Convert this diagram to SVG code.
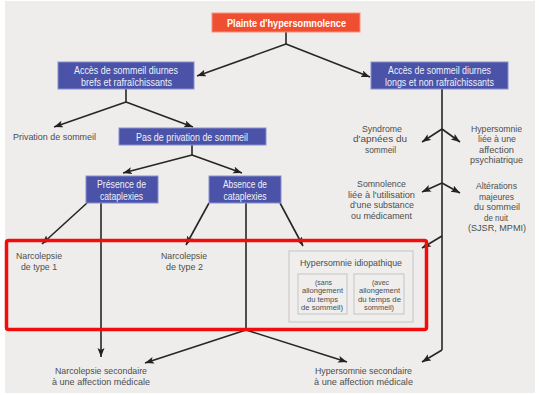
<svg xmlns="http://www.w3.org/2000/svg" width="539" height="395" viewBox="0 0 539 395">
<defs>
<marker id="ah" markerUnits="userSpaceOnUse" markerWidth="10" markerHeight="8" refX="9" refY="3.5" orient="auto">
<path d="M0,0 L9,3.5 L0,7 L2,3.5 z" fill="#222"/>
</marker>
<style>
text{font-family:"Liberation Sans",Arial,sans-serif;text-anchor:middle}
.t{font-size:9.8px;fill:#4d4d4d}
.s{font-size:8px}
.w{font-size:10.2px;fill:#eef0fa}
.blue{fill:#4a53a7;stroke:#8a90cf;stroke-width:1}
.grey{fill:#efeeed;stroke:#c4c4c4;stroke-width:1}
.c path{fill:none;stroke:#262626;stroke-width:1.6}
.a{marker-end:url(#ah)}
</style>
</defs>
<rect x="0" y="0" width="539" height="395" fill="#ffffff"/>
<rect x="5" y="1" width="530" height="392" fill="#efedeb"/>
<g id="connectors" class="c">
<path d="M286,32 V44"/>
<path class="a" d="M286,44 L197,76"/>
<path class="a" d="M286,44 L370,77"/>
<path d="M126,89 V102"/>
<path class="a" d="M126,102 L54,127"/>
<path class="a" d="M126,102 L193,127"/>
<path d="M192,145 V155"/>
<path class="a" d="M192,155 L123,173"/>
<path class="a" d="M192,155 L242,173"/>
<path class="a" d="M87,203 L42,244"/>
<path class="a" d="M101,203 V357"/>
<path class="a" d="M209,203 L186,245"/>
<path class="a" d="M280,203 L303,246"/>
<path d="M246,203 V330"/>
<path class="a" d="M246,330 L145,363"/>
<path class="a" d="M246,330 L347,362"/>
<path d="M442,89 V350"/>
<path class="a" d="M442,350 L422,362"/>
<path class="a" d="M442,129 L422,142"/>
<path class="a" d="M442,129 L460,142"/>
<path class="a" d="M442,183 L422,192"/>
<path class="a" d="M442,183 L460,193"/>
<path class="a" d="M442,236 L422,248"/>
</g>
<g id="n-plainte">
<rect x="212" y="13" width="148" height="19" fill="#f04e31" stroke="#f7927e" stroke-width="1"/>
<text x="286.5" y="26.5" font-size="11px" font-weight="bold" fill="#fff" textLength="119" lengthAdjust="spacingAndGlyphs">Plainte d'hypersomnolence</text>
</g>
<g id="n-brefs">
<rect class="blue" x="58" y="62" width="136" height="27"/>
<text class="w" x="126" y="74" textLength="104" lengthAdjust="spacingAndGlyphs">Accès de sommeil diurnes</text>
<text class="w" x="126.5" y="85.5" textLength="91" lengthAdjust="spacingAndGlyphs">brefs et rafraîchissants</text>
</g>
<g id="n-longs">
<rect class="blue" x="371" y="62" width="137" height="27"/>
<text class="w" x="439.5" y="74" textLength="103" lengthAdjust="spacingAndGlyphs">Accès de sommeil diurnes</text>
<text class="w" x="439.5" y="85.5" textLength="109" lengthAdjust="spacingAndGlyphs">longs et non rafraîchissants</text>
</g>
<g id="n-privation">
<text class="t" x="54.5" y="139.5" textLength="83" lengthAdjust="spacingAndGlyphs">Privation de sommeil</text>
</g>
<g id="n-pasprivation">
<rect class="blue" x="119" y="128" width="147" height="17"/>
<text class="w" x="192" y="140.5" textLength="112" lengthAdjust="spacingAndGlyphs">Pas de privation de sommeil</text>
</g>
<g id="n-presence">
<rect class="blue" x="86" y="176" width="72" height="27"/>
<text class="w" x="121.5" y="188" textLength="49" lengthAdjust="spacingAndGlyphs">Présence de</text>
<text class="w" x="121.5" y="199.5" textLength="43" lengthAdjust="spacingAndGlyphs">cataplexies</text>
</g>
<g id="n-absence">
<rect class="blue" x="209" y="176" width="72" height="27"/>
<text class="w" x="245" y="188" textLength="44" lengthAdjust="spacingAndGlyphs">Absence de</text>
<text class="w" x="245" y="199.5" textLength="43" lengthAdjust="spacingAndGlyphs">cataplexies</text>
</g>
<g id="n-apnees">
<text class="t" x="382" y="131.5" textLength="40" lengthAdjust="spacingAndGlyphs">Syndrome</text>
<text class="t" x="380" y="142" textLength="54" lengthAdjust="spacingAndGlyphs">d'apnées du</text>
<text class="t" x="380.5" y="152.5" textLength="31" lengthAdjust="spacingAndGlyphs">sommeil</text>
</g>
<g id="n-psy">
<text class="t" x="496.5" y="131.5" textLength="51" lengthAdjust="spacingAndGlyphs">Hypersomnie</text>
<text class="t" x="497" y="142" textLength="38" lengthAdjust="spacingAndGlyphs">liée à une</text>
<text class="t" x="496.5" y="152.5" textLength="35" lengthAdjust="spacingAndGlyphs">affection</text>
<text class="t" x="496.5" y="163" textLength="53" lengthAdjust="spacingAndGlyphs">psychiatrique</text>
</g>
<g id="n-substance">
<text class="t" x="381.5" y="187" textLength="49" lengthAdjust="spacingAndGlyphs">Somnolence</text>
<text class="t" x="381.5" y="197.5" textLength="67" lengthAdjust="spacingAndGlyphs">liée à l'utilisation</text>
<text class="t" x="382" y="208" textLength="64" lengthAdjust="spacingAndGlyphs">d'une substance</text>
<text class="t" x="381.5" y="218.5" textLength="61" lengthAdjust="spacingAndGlyphs">ou médicament</text>
</g>
<g id="n-alterations">
<text class="t" x="496.5" y="189" textLength="41" lengthAdjust="spacingAndGlyphs">Altérations</text>
<text class="t" x="496.5" y="199.5" textLength="35" lengthAdjust="spacingAndGlyphs">majeures</text>
<text class="t" x="497" y="210" textLength="46" lengthAdjust="spacingAndGlyphs">du sommeil</text>
<text class="t" x="496" y="220.5" textLength="24" lengthAdjust="spacingAndGlyphs">de nuit</text>
<text class="t" x="497" y="231" textLength="58" lengthAdjust="spacingAndGlyphs">(SJSR, MPMI)</text>
</g>
<g id="n-type1">
<text class="t" x="39" y="259" textLength="46" lengthAdjust="spacingAndGlyphs">Narcolepsie</text>
<text class="t" x="39" y="269.5" textLength="36" lengthAdjust="spacingAndGlyphs">de type 1</text>
</g>
<g id="n-type2">
<text class="t" x="184" y="259" textLength="46" lengthAdjust="spacingAndGlyphs">Narcolepsie</text>
<text class="t" x="184.5" y="269.5" textLength="37" lengthAdjust="spacingAndGlyphs">de type 2</text>
</g>
<g id="n-idio">
<rect class="grey" x="289" y="251" width="124" height="71"/>
<text class="t" x="351" y="265.5" textLength="102" lengthAdjust="spacingAndGlyphs">Hypersomnie idiopathique</text>
<rect class="grey" x="298" y="274" width="49" height="40"/>
<text class="t s" x="323.5" y="284.5" textLength="17" lengthAdjust="spacingAndGlyphs">(sans</text>
<text class="t s" x="322.5" y="293" textLength="41" lengthAdjust="spacingAndGlyphs">allongement</text>
<text class="t s" x="322.5" y="301.5" textLength="31" lengthAdjust="spacingAndGlyphs">du temps</text>
<text class="t s" x="322" y="310" textLength="42" lengthAdjust="spacingAndGlyphs">de sommeil)</text>
<rect class="grey" x="354" y="274" width="50" height="40"/>
<text class="t s" x="380.5" y="284.5" textLength="17" lengthAdjust="spacingAndGlyphs">(avec</text>
<text class="t s" x="379.5" y="293" textLength="41" lengthAdjust="spacingAndGlyphs">allongement</text>
<text class="t s" x="379.5" y="301.5" textLength="43" lengthAdjust="spacingAndGlyphs">du temps de</text>
<text class="t s" x="379" y="310" textLength="30" lengthAdjust="spacingAndGlyphs">sommeil)</text>
</g>
<g id="n-narcosec">
<text class="t" x="101" y="374" textLength="92" lengthAdjust="spacingAndGlyphs">Narcolepsie secondaire</text>
<text class="t" x="101" y="384.5" textLength="98" lengthAdjust="spacingAndGlyphs">à une affection médicale</text>
</g>
<g id="n-hypersec">
<text class="t" x="363.5" y="374" textLength="97" lengthAdjust="spacingAndGlyphs">Hypersomnie secondaire</text>
<text class="t" x="363.5" y="384.5" textLength="99" lengthAdjust="spacingAndGlyphs">à une affection médicale</text>
</g>
<g id="highlight">
<rect x="6.5" y="240.5" width="420" height="89" rx="2" fill="none" stroke="#f20d0d" stroke-width="3.5"/>
</g>
</svg>
